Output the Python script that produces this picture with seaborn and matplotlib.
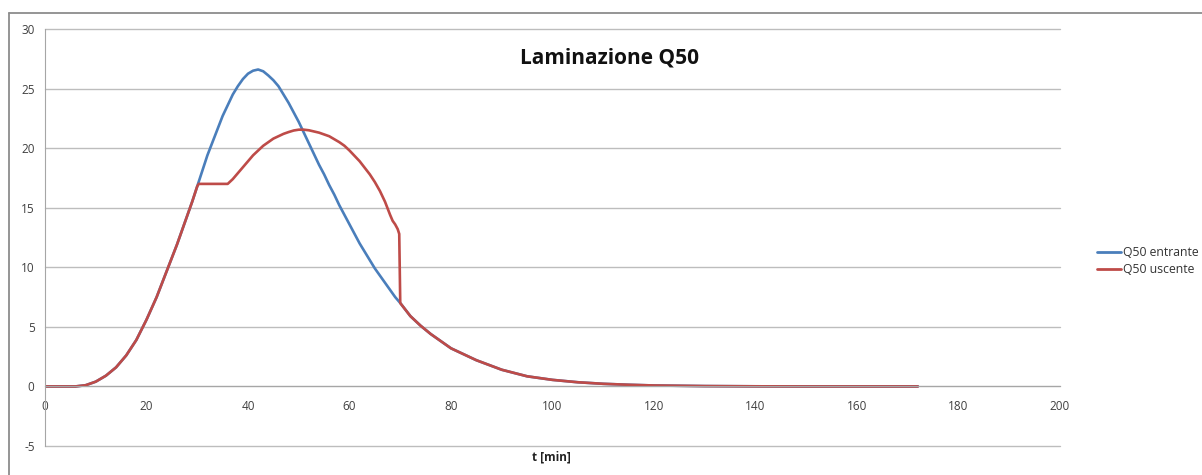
import matplotlib
matplotlib.use("Agg")
import matplotlib.pyplot as plt
import seaborn as sns
import pandas as pd
from matplotlib.lines import Line2D

# values (t in minutes, Q)
t_in = [0, 2, 4, 6, 8, 10, 12, 14, 16, 18, 20, 22, 24, 26, 28, 29, 30, 31, 32, 33, 34, 35, 36, 37, 38, 39,
        40, 41, 42, 43, 44, 45, 46, 47, 48, 49, 50, 51, 52, 53, 54, 55, 56, 57, 58, 59,
        60, 61, 62, 63, 64, 65, 66, 67, 68, 69, 70, 72, 74, 76, 78,
        80, 85, 90, 95, 100, 105, 110, 115, 120, 130, 140, 150, 160, 172]
q_in = [0, 0, 0, 0, 0.1, 0.4, 0.9, 1.6, 2.6, 3.9, 5.6, 7.5, 9.7, 11.9, 14.3, 15.5, 16.8, 18.1, 19.4, 20.5, 21.6, 22.7, 23.6, 24.5, 25.2, 25.8,
        26.25, 26.5, 26.6, 26.45, 26.1, 25.7, 25.2, 24.5, 23.8, 23.0, 22.2, 21.3, 20.4, 19.5, 18.6, 17.8, 16.9, 16.1, 15.2, 14.4,
        13.6, 12.8, 12.0, 11.3, 10.6, 9.9, 9.3, 8.7, 8.1, 7.5, 7.0, 5.9, 5.1, 4.4, 3.8,
        3.2, 2.2, 1.4, 0.85, 0.55, 0.35, 0.22, 0.14, 0.08, 0.03, 0.01, 0, 0, 0]

t_out = [0, 2, 4, 6, 8, 10, 12, 14, 16, 18, 20, 22, 24, 26, 28, 29, 30, 30.3, 36, 37, 38, 39,
         40, 41, 42, 43, 44, 45, 46, 47, 48, 49, 50, 51, 52, 53, 54, 55, 56, 57, 58, 59,
         60, 61, 62, 63, 64, 65, 66, 67, 68, 68.5, 69, 69.5, 69.8,
         70, 72, 74, 76, 78, 80, 85, 90, 95, 100, 105, 110, 115, 120, 130, 140, 150, 160, 172]
q_out = [0, 0, 0, 0, 0.1, 0.4, 0.9, 1.6, 2.6, 3.9, 5.6, 7.5, 9.7, 11.9, 14.3, 15.5, 16.8, 17.0, 17.0, 17.4, 17.9, 18.4,
         18.9, 19.4, 19.8, 20.2, 20.5, 20.8, 21.0, 21.2, 21.35, 21.48, 21.55, 21.55, 21.5, 21.4, 21.3, 21.15, 21.0, 20.75, 20.5, 20.2,
         19.8, 19.35, 18.9, 18.35, 17.8, 17.15, 16.4, 15.5, 14.4, 13.9, 13.6, 13.2, 12.8,
         7.0, 5.9, 5.1, 4.4, 3.8, 3.2, 2.2, 1.4, 0.85, 0.55, 0.35, 0.22, 0.14, 0.08, 0.03, 0.01, 0, 0, 0]

series_names = ["Q50 entrante", "Q50 uscente"]
x_ticks = list(range(0, 201, 20))
y_ticks = list(range(-5, 31, 5))

# Excel-like colors
palette = {
    "Q50 entrante": "#4A7EBB",
    "Q50 uscente": "#BE4B48",
}

df = pd.concat([
    pd.DataFrame({"t": t_in, "Q": q_in, "serie": series_names[0]}),
    pd.DataFrame({"t": t_out, "Q": q_out, "serie": series_names[1]}),
], ignore_index=True)

sns.set_style("white")
plt.rcParams["font.family"] = ["Open Sans", "DejaVu Sans"]
plt.rcParams["axes.unicode_minus"] = False

W, H = 1202, 475
fig = plt.figure(figsize=(W / 100, H / 100), dpi=100)
ax = fig.add_axes([45 / W, 1 - 446 / H, (1060 - 45) / W, (446 - 29) / H])

sns.lineplot(data=df, x="t", y="Q", hue="serie", palette=palette, hue_order=series_names,
             linewidth=1.9, estimator=None, sort=False, legend=False, ax=ax)

ax.set_xlim(0, 200)
ax.set_ylim(-5, 30)
ax.set_xticks(x_ticks)
ax.set_yticks(y_ticks)
ax.set_xlabel("")
ax.set_ylabel("")

grid_color = "#BDBDBD"
ax.yaxis.grid(True, color=grid_color, linewidth=1)
ax.xaxis.grid(False)
ax.set_axisbelow(True)
for gl in ax.yaxis.get_gridlines():
    gl.set_clip_on(False)

for side in ["top", "right"]:
    ax.spines[side].set_visible(False)
ax.spines["left"].set_color("#A6A6A6")
ax.spines["bottom"].set_color("#A6A6A6")
ax.spines["bottom"].set_position(("data", 0))

ax.tick_params(axis="both", direction="out", length=4, color="#A6A6A6",
               labelsize=8.5, labelcolor="#404040")
ax.tick_params(axis="x", pad=6)

fig.text(610 / W, 1 - 58 / H, "Laminazione Q50", ha="center", va="center",
         fontsize=15, fontweight="bold", color="#111111")
fig.text(551 / W, 1 - 457 / H, "t [min]", ha="center", va="center",
         fontsize=8.5, fontweight="bold", color="#222222")

handles = [Line2D([], [], color=palette[n], linewidth=2) for n in series_names]
fig.legend(handles, series_names, loc="center left",
           bbox_to_anchor=(1086 / W, 1 - 261 / H), frameon=False, fontsize=8.8,
           handlelength=2.0, handletextpad=0.1, labelspacing=0.3, labelcolor="#333333")

# chart area border
fig.add_artist(Line2D([9 / W, 9 / W], [0, 1 - 13 / H], transform=fig.transFigure,
                      color="#8C8C8C", linewidth=1.3))
fig.add_artist(Line2D([9 / W, 1], [1 - 13 / H, 1 - 13 / H], transform=fig.transFigure,
                      color="#8C8C8C", linewidth=1.3))

fig.savefig("out.png", dpi=100)
